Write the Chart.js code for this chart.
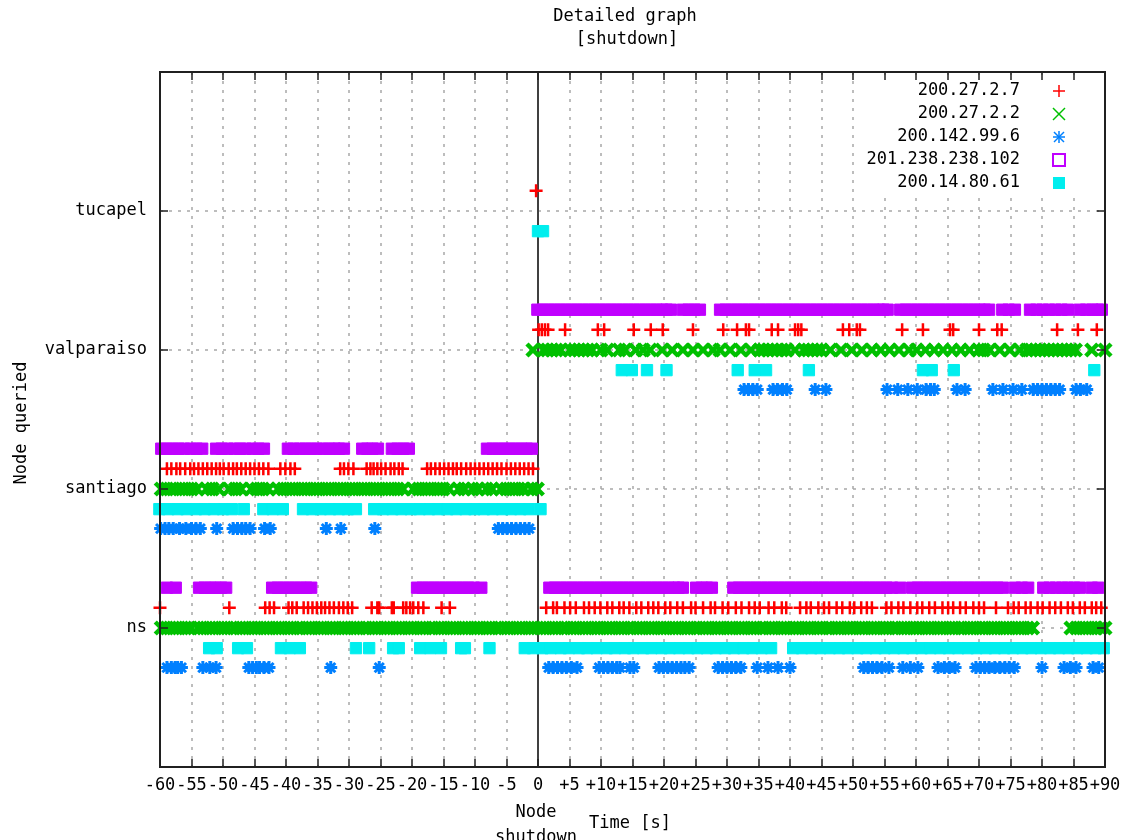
<!DOCTYPE html>
<html>
<head>
<meta charset="utf-8">
<script src="https://cdn.jsdelivr.net/npm/chart.js@4.4.0/dist/chart.umd.min.js"></script>
<style>
html, body { margin: 0; padding: 0; background: #fff; }
canvas { display: block; }
</style>
</head>
<body>
<canvas id="detail_chart" width="1121" height="840"></canvas>
<script>
// categories
const nodes = ['ns', 'santiago', 'valparaiso', 'tucapel'];
const nodeLevels = [1, 2, 3, 4];
const seriesNames = ['200.27.2.7', '200.27.2.2', '200.142.99.6', '201.238.238.102', '200.14.80.61'];
const xTickValues = [-60, -55, -50, -45, -40, -35, -30, -25, -20, -15, -10, -5, 0, 5, 10, 15, 20, 25, 30, 35, 40, 45, 50, 55, 60, 65, 70, 75, 80, 85, 90];
const xTickLabels = ['-60', '-55', '-50', '-45', '-40', '-35', '-30', '-25', '-20', '-15', '-10', '-5', '0', '+5', '+10', '+15', '+20', '+25', '+30', '+35', '+40', '+45', '+50', '+55', '+60', '+65', '+70', '+75', '+80', '+85', '+90'];

// 200.27.2.7 - query times [s]
const ip7_ns = [-60.0, -49.0, -43.3, -42.6, -41.9, -39.6, -39.0, -38.3, -37.2, -36.5, -35.8, -35.1, -34.4, -33.8, -33.1, -32.4, -31.6, -30.9, -30.2, -29.5,
  -26.4, -25.5, -25.2, -23.2, -22.9, -21.4, -20.9, -20.3, -19.8, -19.0, -18.2, -15.3, -14.0,
  1.3, 2.4, 3.0, 4.2, 5.1, 6.0, 7.3, 8.1, 9.0, 9.9, 11.0, 11.8, 12.9, 13.6, 14.5, 15.6, 16.4, 17.5, 18.3, 19.1, 20.2, 21.0, 22.1, 23.0,
  24.3, 25.0, 26.2, 27.4, 28.1, 29.3, 30.2, 31.4, 32.3, 33.5, 34.4, 35.2, 36.6, 37.5, 38.7, 39.4, 41.6, 42.6, 43.3, 44.5, 45.4, 46.2,
  47.4, 48.3, 49.5, 50.2, 51.3, 52.2, 53.0, 55.3, 56.1, 57.2, 58.0, 59.1, 60.2, 61.0, 62.1, 63.0, 64.2, 65.1, 65.9, 67.0, 67.9, 69.1,
  70.0, 70.8, 72.7, 74.6, 75.5, 76.3, 77.4, 78.2, 79.3, 80.1, 81.2, 82.1, 83.0, 84.1, 84.9, 86.0, 86.8, 87.9, 88.6, 89.4];
const ip7_santiago = [-58.9, -58.2, -57.4, -56.8, -56.0, -55.2, -54.6, -53.9, -53.2, -52.5, -51.8, -51.1, -50.5, -49.9, -49.1, -48.4, -47.8,
  -47.1, -46.4, -45.7, -45.0, -44.3, -43.6, -42.8, -40.9, -40.1, -39.3, -38.6,
  -31.4, -30.8, -30.1, -29.3, -27.2, -26.6, -26.1, -25.5, -24.9, -24.2, -23.4, -22.8, -22.1, -21.5,
  -17.6, -17.0, -16.3, -15.6, -14.9, -14.2, -13.5, -12.9, -12.2, -11.4, -10.7, -10.0, -9.3, -8.6, -7.9, -7.2, -6.5, -5.8, -5.0,
  -4.3, -3.6, -2.9, -2.2, -1.5, -0.8];
const ip7_valparaiso = [0.1, 0.6, 1.1, 1.6, 4.3, 9.5, 10.5, 15.2, 17.9, 19.8, 24.6, 29.4, 31.6, 33.0, 33.5, 37.1, 38.1, 40.8, 41.3, 41.8,
  48.4, 49.4, 50.6, 51.1, 57.8, 61.1, 65.4, 65.9, 70.0, 72.9, 73.6, 82.4, 85.7, 88.7];
const ip7_tucapel = [-0.3];

// 200.27.2.2
const ip2_ns = [-59.8, -58.9, -57.9, -57.0, -56.0, -55.1, -54.0, -53.1, -52.1, -51.2, -50.2, -49.3, -48.3, -47.3, -46.4, -45.4, -44.5, -43.5,
  -42.6, -41.6, -40.7, -39.7, -38.8, -37.8, -36.8, -35.9, -34.9, -34.0, -33.0, -32.1, -31.1, -30.2, -29.2, -28.3, -27.3, -26.3, -25.4,
  -24.4, -23.5, -22.5, -21.6, -20.6, -19.7, -18.7, -17.8, -16.8, -15.8, -14.9, -13.9, -13.0, -12.0, -11.1, -10.1, -9.2, -8.2, -7.3,
  -6.3, -5.3, -4.4, -3.4, -2.5, -1.5, -0.6, 0.4, 1.3, 2.3, 3.2, 4.2, 5.2, 6.1, 7.1, 8.0, 9.0, 9.9, 10.9, 11.8, 12.8, 13.7, 14.7, 15.7,
  16.6, 17.6, 18.5, 19.5, 20.4, 21.4, 22.3, 23.3, 24.2, 25.2, 26.2, 27.1, 28.1, 29.0, 30.0, 30.9, 31.9, 32.8, 33.8, 34.7, 35.7, 36.7,
  37.6, 38.6, 39.5, 40.5, 41.4, 42.4, 43.3, 44.3, 45.2, 46.2, 47.2, 48.1, 49.1, 50.0, 51.0, 51.9, 52.9, 53.8, 54.8, 55.7, 56.7, 57.7,
  58.6, 59.6, 60.5, 61.5, 62.4, 63.4, 64.3, 65.3, 66.2, 67.2, 68.2, 69.1, 70.1, 71.0, 72.0, 72.9, 73.9, 74.8, 75.8, 76.7, 77.7, 78.5,
  84.6, 85.5, 86.5, 87.4, 88.4, 89.3, 90.0];
const ip2_santiago = [-59.8, -58.9, -57.9, -56.9, -56.0, -55.0, -54.1, -52.6, -51.7, -50.7, -49.0, -48.0, -47.1, -45.5, -44.6, -43.7, -42.8,
  -41.3, -40.4, -39.4, -38.5, -37.5, -36.6, -35.6, -34.7, -33.7, -32.8, -31.8, -30.9, -29.9, -29.0, -28.0, -27.1, -26.1, -25.2, -24.2,
  -23.3, -22.3, -21.4, -19.8, -18.9, -17.9, -17.0, -16.0, -15.1, -14.1, -12.6, -11.7, -10.4, -9.5, -8.2, -7.3, -5.9, -5.0, -4.0, -3.1,
  -2.2, -1.0, -0.1];
const ip2_valparaiso = [-0.8, 0.9, 1.5, 2.2, 2.9, 3.6, 5.1, 5.8, 6.5, 7.2, 7.9, 8.6, 10.0, 11.0, 12.9, 13.8, 15.5, 16.7, 17.8, 19.7,
  21.3, 23.0, 24.6, 26.2, 27.8, 28.9, 30.5, 32.2, 33.8, 35.2, 35.8, 36.5, 37.2, 37.9, 38.7, 39.5, 40.8, 42.2, 42.9, 43.6, 44.3, 45.0,
  46.4, 48.1, 49.8, 51.4, 53.0, 54.4, 55.8, 57.3, 58.9, 60.1, 61.5, 62.9, 64.3, 65.7, 67.1, 68.5, 69.9, 70.7, 71.7, 73.3, 74.9, 76.5,
  77.6, 78.3, 79.0, 79.7, 80.4, 81.1, 81.8, 82.5, 83.2, 83.9, 84.6, 85.3, 87.9, 90.0];
const ip2_tucapel = [];

// 200.142.99.6
const ip142_ns = [-58.9, -58.2, -57.6, -57.2, -56.6, -53.2, -52.1, -51.1, -45.9, -45.3, -44.7, -44.2, -43.5, -42.7, -32.9, -25.2,
  1.7, 2.4, 3.1, 3.8, 4.5, 5.3, 6.2, 9.7, 10.4, 11.1, 11.8, 12.5, 13.0, 14.6, 15.2, 19.2, 19.9, 20.6, 21.3, 22.0, 22.7, 23.3, 24.0,
  28.6, 29.3, 30.0, 30.7, 31.4, 32.2, 34.8, 36.5, 38.1, 40.0, 51.7, 52.4, 53.1, 53.8, 54.6, 55.7, 57.9, 59.1, 60.3, 63.5, 64.5, 65.3,
  66.2, 69.5, 70.2, 70.9, 71.6, 72.5, 73.3, 74.1, 74.8, 75.6, 80.0, 83.5, 84.5, 85.4, 88.1, 89.0];
const ip142_santiago = [-59.9, -59.2, -58.6, -57.9, -56.9, -55.9, -55.0, -54.3, -53.6, -51.0, -48.4, -47.7, -47.0, -46.4, -45.7,
  -43.4, -42.5, -33.6, -31.3, -25.9, -6.3, -5.6, -4.9, -4.2, -3.5, -2.8, -2.1, -1.4];
const ip142_valparaiso = [32.7, 33.4, 34.1, 34.8, 37.3, 38.0, 38.8, 39.5, 44.0, 45.7, 55.4, 57.1, 58.7, 60.2, 61.6, 62.3, 62.9,
  66.5, 67.8, 72.2, 73.8, 75.4, 76.8, 78.6, 79.3, 80.0, 80.7, 81.4, 82.1, 82.8, 85.4, 86.1, 87.1];
const ip142_tucapel = [];

// 201.238.238.102
const ip201_ns = [-58.9, -57.5, -53.8, -52.9, -52.0, -51.2, -50.3, -49.5, -42.2, -41.3, -40.4, -39.5, -38.6, -37.7, -36.8, -36.0,
  -19.2, -18.3, -17.4, -16.5, -15.6, -14.7, -13.8, -12.9, -12.0, -11.1, -10.2, -9.0,
  1.8, 2.7, 3.6, 4.5, 5.4, 6.3, 7.2, 8.1, 9.0, 9.9, 10.8, 11.7, 12.6, 13.5, 14.4, 15.3, 16.2, 17.1, 18.0, 18.9, 19.8, 20.7, 21.6,
  22.3, 23.0, 25.1, 26.0, 26.8, 27.6, 31.0, 31.9, 32.8, 33.7, 34.6, 35.5, 36.4, 37.3, 38.2, 39.1, 40.0, 40.9, 41.8, 42.7, 43.6,
  44.5, 45.4, 46.3, 47.2, 48.1, 49.0, 49.9, 50.8, 51.7, 52.6, 53.5, 54.4, 55.3, 56.2, 57.5, 59.4, 60.3, 61.2, 62.1, 63.0, 63.9,
  64.8, 65.7, 66.6, 67.5, 68.4, 69.3, 70.2, 71.1, 72.0, 72.9, 73.8, 75.7, 76.8, 77.8, 80.2, 81.2, 82.2, 83.2, 84.1, 85.1, 86.0,
  87.9, 88.9];
const ip201_santiago = [-59.8, -58.9, -58.0, -57.1, -56.2, -55.1, -54.2, -53.3, -51.1, -50.2, -49.3, -48.2, -47.3, -46.4, -45.3,
  -44.4, -43.5, -39.7, -38.8, -37.8, -36.9, -36.0, -35.1, -34.1, -33.2, -32.3, -31.6, -30.8, -27.9, -27.1, -26.3, -25.4,
  -23.2, -22.3, -21.4, -20.5, -8.1, -7.2, -6.3, -5.4, -4.5, -3.6, -2.7, -1.8, -1.0];
const ip201_valparaiso = [-0.1, 0.8, 1.7, 2.6, 3.5, 4.4, 5.3, 6.2, 7.1, 8.0, 8.9, 9.8, 10.7, 11.6, 12.5, 13.4, 14.3, 15.2, 16.1,
  17.0, 17.9, 18.8, 19.7, 20.4, 21.1, 23.0, 23.9, 24.8, 25.7, 28.9, 29.8, 30.7, 31.6, 32.5, 33.4, 34.3, 35.2, 36.1, 37.0, 37.9,
  38.8, 39.7, 40.6, 41.5, 42.4, 43.3, 44.2, 45.1, 46.0, 46.9, 47.8, 48.7, 49.6, 50.5, 51.4, 52.3, 53.2, 54.1, 54.8, 55.5, 57.5,
  58.4, 59.3, 60.2, 61.1, 62.0, 62.9, 63.8, 64.7, 65.6, 66.5, 67.4, 68.3, 69.2, 70.1, 70.9, 71.6, 73.7, 74.7, 75.7, 78.1, 79.1,
  80.1, 81.1, 82.1, 83.1, 84.1, 86.0, 87.0, 88.0, 88.8, 89.5];
const ip201_tucapel = [];

// 200.14.80.61
const ip14_ns = [-52.2, -51.0, -47.6, -46.2, -40.8, -39.4, -37.8, -28.9, -26.8, -23.0, -22.1, -18.7, -17.1, -15.4, -12.2, -11.6, -7.7,
  -2.1, -0.8, 0.7, 2.0, 3.6, 4.9, 6.5, 7.8, 9.3, 10.9, 12.2, 13.8, 15.1, 16.7, 18.0, 19.6, 20.9, 22.4, 23.9, 25.3, 26.8, 28.2,
  29.7, 31.1, 32.6, 34.0, 35.5, 37.0, 40.5, 41.9, 43.4, 44.8, 46.3, 47.8, 49.2, 50.7, 52.1, 53.6, 55.0, 56.5, 58.0, 59.4, 60.9,
  62.3, 63.8, 65.2, 66.7, 68.2, 69.6, 71.1, 72.5, 74.0, 75.4, 76.9, 78.3, 79.8, 81.3, 82.7, 84.2, 85.6, 87.1, 88.5, 89.8];
const ip14_santiago = [-60.1, -58.7, -57.2, -55.8, -54.3, -52.9, -51.5, -50.0, -48.6, -46.7, -43.6, -42.1, -40.5, -37.3, -35.9,
  -34.5, -33.0, -31.6, -30.2, -28.9, -26.0, -24.6, -23.1, -21.7, -20.2, -18.8, -17.3, -15.9, -14.4, -13.0, -11.5, -10.1, -8.6,
  -7.2, -5.7, -4.3, -2.8, -1.4, 0.4];
const ip14_valparaiso = [13.3, 14.9, 17.3, 20.4, 31.7, 34.4, 36.2, 43.0, 61.1, 62.5, 66.0, 88.3];
const ip14_tucapel = [0.0, 0.8];

const seriesTimes = [
  [ip7_ns, ip7_santiago, ip7_valparaiso, ip7_tucapel],
  [ip2_ns, ip2_santiago, ip2_valparaiso, ip2_tucapel],
  [ip142_ns, ip142_santiago, ip142_valparaiso, ip142_tucapel],
  [ip201_ns, ip201_santiago, ip201_valparaiso, ip201_tucapel],
  [ip14_ns, ip14_santiago, ip14_valparaiso, ip14_tucapel]
];

// look of each series (gnuplot point types)
const seriesColors = ['#ff0000', '#00c000', '#0080ff', '#c000ff', '#00eeee'];
const seriesShapes = ['cross', 'crossRot', 'star', 'rect', 'rect'];
const seriesRadius = [6.5, 8.5, 6.5, 8, 8];
const seriesLineW = [2.5, 4.5, 3, 1, 1];
const seriesOffset = [0.145, 0, -0.285, 0.29, -0.145];

const FONT = '"DejaVu Sans Mono", monospace';

function toPoints(lists, off) {
    const pts = [];
    lists.forEach((list, i) => {
        list.forEach(t => pts.push({ x: t, y: nodeLevels[i] + off }));
    });
    return pts;
}

function line(ctx, x1, y1, x2, y2) {
    ctx.beginPath();
    ctx.moveTo(x1, y1);
    ctx.lineTo(x2, y2);
    ctx.stroke();
}

// legend marks, drawn by hand like gnuplot does
function legendMark(ctx, s, cx, cy) {
    const c = seriesColors[s];
    ctx.strokeStyle = c;
    ctx.fillStyle = c;
    ctx.lineWidth = 1.5;
    if (s === 0) {
        line(ctx, cx - 6, cy, cx + 6, cy);
        line(ctx, cx, cy - 6, cx, cy + 6);
    } else if (s === 1) {
        line(ctx, cx - 6, cy - 6, cx + 6, cy + 6);
        line(ctx, cx - 6, cy + 6, cx + 6, cy - 6);
    } else if (s === 2) {
        line(ctx, cx - 6, cy, cx + 6, cy);
        line(ctx, cx, cy - 6, cx, cy + 6);
        line(ctx, cx - 5, cy - 5, cx + 5, cy + 5);
        line(ctx, cx - 5, cy + 5, cx + 5, cy - 5);
    } else if (s === 3) {
        ctx.lineWidth = 2;
        ctx.strokeRect(cx - 6, cy - 6, 12, 12);
    } else {
        ctx.fillRect(cx - 6, cy - 6, 12, 12);
    }
}

const gnuplotDecor = {
    id: 'gnuplotDecor',
    beforeDatasetsDraw(chart) {
        const { ctx, chartArea: a, scales: { x, y } } = chart;
        ctx.save();
        // dotted grid
        ctx.strokeStyle = '#a8a8a8';
        ctx.lineWidth = 1.5;
        ctx.setLineDash([3, 6]);
        x.ticks.forEach(tk => {
            if (tk.value === 0 || tk.value === x.min || tk.value === x.max) return;
            const px = Math.round(x.getPixelForValue(tk.value));
            line(ctx, px, a.top, px, a.bottom);
        });
        y.ticks.forEach(tk => {
            const py = Math.round(y.getPixelForValue(tk.value));
            line(ctx, a.left, py, a.right, py);
        });
        // node shutdown line
        ctx.setLineDash([]);
        ctx.strokeStyle = '#404040';
        ctx.lineWidth = 2;
        const x0 = Math.round(x.getPixelForValue(0));
        line(ctx, x0, a.top, x0, a.bottom);
        ctx.restore();
    },
    afterDatasetsDraw(chart) {
        const { ctx, chartArea: a, scales: { x, y } } = chart;
        ctx.save();
        // legend area
        ctx.fillStyle = '#fff';
        ctx.fillRect(857, a.top + 5, a.right - 858, 120);
        ctx.font = '17px ' + FONT;
        ctx.textBaseline = 'middle';
        ctx.textAlign = 'right';
        seriesNames.forEach((name, s) => {
            const ry = 91 + s * 23;
            ctx.fillStyle = '#000';
            ctx.fillText(name, 1020, ry);
            legendMark(ctx, s, 1059, ry);
        });
        // frame and inward ticks
        ctx.strokeStyle = '#202020';
        ctx.lineWidth = 2;
        ctx.strokeRect(a.left, a.top, a.right - a.left, a.bottom - a.top);
        ctx.lineWidth = 1.5;
        x.ticks.forEach(tk => {
            const px = Math.round(x.getPixelForValue(tk.value));
            line(ctx, px, a.bottom, px, a.bottom - 8);
            line(ctx, px, a.top, px, a.top + 8);
        });
        y.ticks.forEach(tk => {
            const py = Math.round(y.getPixelForValue(tk.value));
            line(ctx, a.left, py, a.left + 8, py);
            line(ctx, a.right, py, a.right - 8, py);
        });
        // titles and axis labels
        ctx.fillStyle = '#000';
        ctx.textAlign = 'center';
        ctx.fillText('Detailed graph', 625, 17);
        ctx.fillText('[shutdown]', 627, 40);
        ctx.fillText('Node', 536, 813);
        ctx.fillText('shutdown', 536, 838);
        ctx.fillText('Time [s]', 630, 824);
        ctx.translate(22, 423);
        ctx.rotate(-Math.PI / 2);
        ctx.fillText('Node queried', 0, 0);
        ctx.restore();
    }
};

function fnDetailChart() {
    Chart.defaults.font.family = FONT;
    Chart.defaults.font.size = 17;
    Chart.defaults.color = '#000';

    const datasets = seriesNames.map((name, s) => ({
        label: name,
        data: toPoints(seriesTimes[s], seriesOffset[s]),
        showLine: false,
        clip: false,
        pointStyle: seriesShapes[s],
        pointRadius: seriesRadius[s],
        pointHoverRadius: seriesRadius[s],
        pointBorderWidth: seriesLineW[s],
        pointBorderColor: seriesColors[s],
        pointBackgroundColor: seriesColors[s]
    }));

    const ctx = document.getElementById('detail_chart').getContext('2d');
    new Chart(ctx, {
        type: 'scatter',
        data: { datasets: datasets },
        options: {
            responsive: false,
            animation: false,
            devicePixelRatio: 1,
            events: [],
            layout: { padding: { top: 72, right: 16, left: 0, bottom: 0 } },
            scales: {
                x: {
                    type: 'linear',
                    min: -60,
                    max: 90,
                    afterBuildTicks: s => { s.ticks = xTickValues.map(v => ({ value: v })); },
                    afterFit: s => { s.height = 73; s.paddingLeft = 0; s.paddingRight = 0; },
                    grid: { display: false },
                    border: { display: false },
                    ticks: {
                        autoSkip: false,
                        maxRotation: 0,
                        minRotation: 0,
                        padding: 0,
                        callback: (v) => xTickLabels[xTickValues.indexOf(v)]
                    }
                },
                y: {
                    type: 'linear',
                    min: 0,
                    max: 5,
                    afterBuildTicks: s => { s.ticks = nodeLevels.map(v => ({ value: v })); },
                    afterFit: s => { s.width = 160; s.paddingTop = 0; s.paddingBottom = 0; },
                    grid: { display: false },
                    border: { display: false },
                    ticks: {
                        padding: 5,
                        callback: (v) => nodes[nodeLevels.indexOf(v)]
                    }
                }
            },
            plugins: {
                legend: { display: false },
                title: { display: false },
                tooltip: { enabled: false }
            }
        },
        plugins: [gnuplotDecor]
    });
}

fnDetailChart();
</script>
</body>
</html>
